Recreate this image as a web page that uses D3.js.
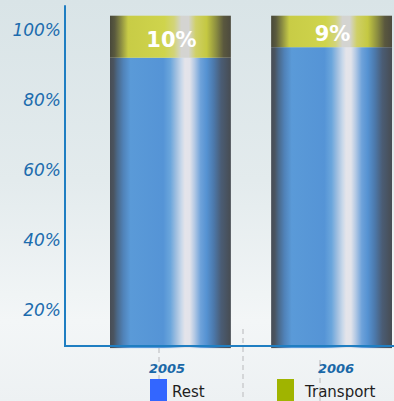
<!DOCTYPE html>
<html><head><meta charset="utf-8">
<script src="https://cdn.jsdelivr.net/npm/d3@7"></script>
<style>html,body{margin:0;padding:0;overflow:hidden;background:#e6eef0}</style>
</head><body>
<svg id="c" width="394" height="401"></svg>
<script>
const years = ["2005", "2006"];
const rest = [88, 91];
const transport = [12, 9];
const transportLabels = ["10%", "9%"];
const tickValues = [20, 40, 60, 80, 100];
const tickLabels = ["20%", "40%", "60%", "80%", "100%"];
const legendItems = ["Rest", "Transport"];
const legendColors = ["#3366ff", "#a0b400"];

const svg = d3.select("#c");
const W = 394, H = 401;
const defs = svg.append("defs");

// background gradient
const bg = defs.append("linearGradient").attr("id", "bg").attr("x1", 0).attr("y1", 0).attr("x2", 0).attr("y2", 1);
[[0, "#d9e4e7"], [0.45, "#e3ebed"], [0.8, "#f3f6f7"], [1, "#edf1f3"]].forEach(s =>
  bg.append("stop").attr("offset", s[0]).attr("stop-color", s[1]));
svg.append("rect").attr("width", W).attr("height", H).attr("fill", "url(#bg)");

function cyl(id, stops) {
  const g = defs.append("linearGradient").attr("id", id).attr("x1", 0).attr("y1", 0).attr("x2", 1).attr("y2", 0);
  stops.forEach(s => g.append("stop").attr("offset", s[0]).attr("stop-color", s[1]));
}
cyl("gRest", [[0, "#474d55"], [0.03, "#4a5460"], [0.06, "#4a6888"], [0.11, "#5082b8"], [0.17, "#5a9ad8"],
  [0.44, "#5594d6"], [0.5, "#6ba6dc"], [0.55, "#a2c0e0"], [0.59, "#c8d8ea"], [0.62, "#e4e4ea"], [0.66, "#e2e3ea"],
  [0.7, "#b2c8e4"], [0.75, "#6ea2da"], [0.8, "#5592d2"], [0.86, "#4c78aa"], [0.92, "#4a5c74"], [1, "#474c52"]]);
cyl("gTrans", [[0, "#48483a"], [0.04, "#5a5a3e"], [0.09, "#8a8c42"], [0.15, "#c8cc46"], [0.45, "#cfd44c"],
  [0.53, "#d2d478"], [0.59, "#d4d4d0"], [0.65, "#d4d4d2"], [0.71, "#cfd066"], [0.8, "#c4c842"], [0.88, "#8a8c40"],
  [0.94, "#5a583e"], [1, "#4c4a3e"]]);

const y = d3.scaleLinear().domain([0, 100]).range([379.7, 29.7]);
const yMin = 9.6, yMax = 107;
const baseY = y(yMin);
const x = d3.scaleBand().domain(years).range([110, 392]).paddingInner(0.25).paddingOuter(0);
const xl = d3.scalePoint().domain(years).range([167, 336]);
const depth = 14;

// faint dashed guides
[[159, 348, 382], [243, 329, 401], [320, 360, 401]].forEach(d =>
  svg.append("line").attr("x1", d[0]).attr("x2", d[0]).attr("y1", d[1]).attr("y2", d[2])
    .attr("stroke", "#d4d6d8").attr("stroke-width", 2).attr("stroke-dasharray", "5,4"));

const data = years.map((yr, i) => ({ yr, rest: rest[i], tr: transport[i], lab: transportLabels[i] }));

// rest bars
svg.selectAll(".rest").data(data).enter().append("rect")
  .attr("x", d => x(d.yr)).attr("width", x.bandwidth())
  .attr("y", d => y(d.rest) - depth)
  .attr("height", d => baseY + 2 - (y(d.rest) - depth))
  .attr("fill", "url(#gRest)");
// transport bars
svg.selectAll(".tr").data(data).enter().append("rect")
  .attr("x", d => x(d.yr)).attr("width", x.bandwidth())
  .attr("y", d => y(d.rest + d.tr) - depth)
  .attr("height", d => y(d.rest) - y(d.rest + d.tr))
  .attr("fill", "url(#gTrans)");
svg.selectAll(".tl").data(data).enter().append("text")
  .attr("x", d => x(d.yr) + x.bandwidth() / 2 + 1)
  .attr("y", d => (y(d.rest) + y(d.rest + d.tr)) / 2 - depth + 3)
  .attr("text-anchor", "middle").attr("dominant-baseline", "central")
  .attr("font-family", "DejaVu Sans").attr("font-weight", "bold").attr("font-size", 21)
  .attr("fill", "#ffffff").text(d => d.lab);

// axes
svg.append("line").attr("x1", 65).attr("x2", 65).attr("y1", y(yMax)).attr("y2", baseY + 1)
  .attr("stroke", "#1f7ec2").attr("stroke-width", 2);
svg.append("line").attr("x1", 64).attr("x2", W).attr("y1", baseY).attr("y2", baseY)
  .attr("stroke", "#1f7ec2").attr("stroke-width", 2);

svg.selectAll(".yt").data(tickValues).enter().append("text")
  .attr("x", 61).attr("y", d => y(d)).attr("text-anchor", "end").attr("dominant-baseline", "central")
  .attr("font-family", "DejaVu Sans").attr("font-style", "italic").attr("font-size", 17)
  .attr("fill", "#1c6cae").text((d, i) => tickLabels[i]);

svg.selectAll(".xt").data(years).enter().append("text")
  .attr("x", d => xl(d)).attr("y", 368).attr("text-anchor", "middle").attr("dominant-baseline", "central")
  .attr("font-family", "DejaVu Sans").attr("font-style", "italic").attr("font-weight", "bold").attr("font-size", 13)
  .attr("fill", "#1a68a8").text(d => d);

// legend
const lx = [150, 277], tx = [172, 305];
legendItems.forEach((t, i) => {
  svg.append("rect").attr("x", lx[i]).attr("y", 379).attr("width", 17).attr("height", 24).attr("fill", legendColors[i]);
  svg.append("text").attr("x", tx[i]).attr("y", 397).attr("font-family", "DejaVu Sans").attr("font-size", 15)
    .attr("fill", "#1e1e1e").text(t);
});
</script>
</body></html>
